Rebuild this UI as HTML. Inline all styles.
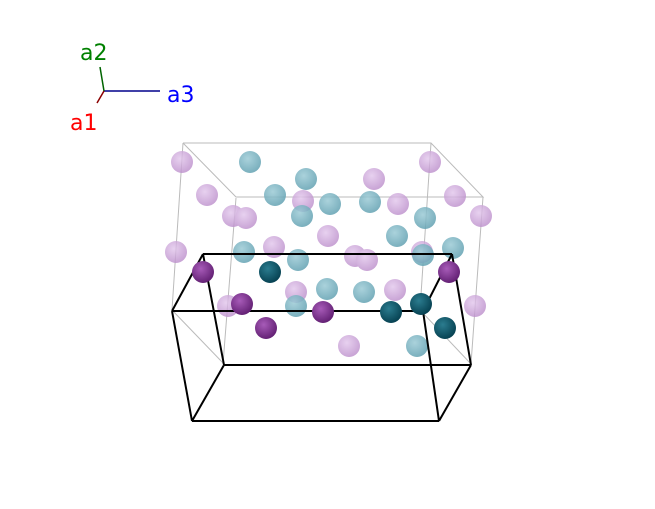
<!DOCTYPE html>
<html><head><meta charset="utf-8"><style>
html,body{margin:0;padding:0;background:#fff;width:655px;height:509px;overflow:hidden}
svg{display:block}
text{font-family:"DejaVu Sans","Liberation Sans",sans-serif;font-size:22px}
</style></head><body>
<svg width="655" height="509" viewBox="0 0 655 509">
<defs>
<radialGradient id="lp" cx="0.4" cy="0.35" r="0.7"><stop offset="0" stop-color="#e2c6ec"/><stop offset="1" stop-color="#b98ac9"/></radialGradient>
<radialGradient id="lt" cx="0.4" cy="0.35" r="0.7"><stop offset="0" stop-color="#9ccbd6"/><stop offset="1" stop-color="#5f9fb0"/></radialGradient>
<radialGradient id="dp" cx="0.4" cy="0.35" r="0.7"><stop offset="0" stop-color="#a75bb8"/><stop offset="1" stop-color="#5f1d70"/></radialGradient>
<radialGradient id="dt" cx="0.4" cy="0.35" r="0.7"><stop offset="0" stop-color="#2b7c8f"/><stop offset="1" stop-color="#043e4e"/></radialGradient>
</defs>
<g stroke="#bbb" stroke-width="1" fill="none">
<path d="M183 143H431L483 197H236L183 143 M183 143L172 310L224 364 M236 198L223 364 M431 143L420 310L471 364 M483 197L471 364"/>
</g>
<g fill="url(#lp)" opacity="0.8">
<circle cx="182" cy="162" r="11"/><circle cx="207" cy="195" r="11"/><circle cx="233" cy="216" r="11"/><circle cx="246" cy="218" r="11"/><circle cx="176" cy="252" r="11"/><circle cx="274" cy="247" r="11"/><circle cx="303" cy="201" r="11"/><circle cx="328" cy="236" r="11"/><circle cx="374" cy="179" r="11"/><circle cx="398" cy="204" r="11"/><circle cx="430" cy="162" r="11"/><circle cx="455" cy="196" r="11"/><circle cx="481" cy="216" r="11"/><circle cx="355" cy="256" r="11"/><circle cx="367" cy="260" r="11"/><circle cx="296" cy="292" r="11"/><circle cx="395" cy="290" r="11"/><circle cx="228" cy="306" r="11"/><circle cx="349" cy="346" r="11"/><circle cx="475" cy="306" r="11"/><circle cx="422" cy="252" r="11"/>
</g>
<g fill="url(#lt)" opacity="0.85">
<circle cx="250" cy="162" r="11"/><circle cx="306" cy="179" r="11"/><circle cx="275" cy="195" r="11"/><circle cx="330" cy="204" r="11"/><circle cx="370" cy="202" r="11"/><circle cx="302" cy="216" r="11"/><circle cx="425" cy="218" r="11"/><circle cx="397" cy="236" r="11"/><circle cx="244" cy="252" r="11"/><circle cx="298" cy="260" r="11"/><circle cx="453" cy="248" r="11"/><circle cx="423" cy="255" r="11"/><circle cx="327" cy="289" r="11"/><circle cx="364" cy="292" r="11"/><circle cx="296" cy="306" r="11"/><circle cx="417" cy="346" r="11"/>
</g>
<g stroke="#000" stroke-width="2" fill="none">
<path d="M203 254H452 M172 311H423 M203 254L172 311 M452 254L423 311 M203 254L224 365 M452 254L471 365 M172 311L192 421 M423 311L439 421 M224 365H471 M192 421H439 M192 421L224 365 M439 421L471 365"/>
</g>
<g fill="url(#dp)">
<circle cx="203" cy="272" r="11"/><circle cx="242" cy="304" r="11"/><circle cx="266" cy="328" r="11"/><circle cx="323" cy="312" r="11"/><circle cx="449" cy="272" r="11"/>
</g>
<g fill="url(#dt)">
<circle cx="270" cy="272" r="11"/><circle cx="391" cy="312" r="11"/><circle cx="421" cy="304" r="11"/><circle cx="445" cy="328" r="11"/>
</g>
<line x1="104" y1="91" x2="160" y2="91" stroke="#00008b" stroke-width="1.5"/>
<line x1="104" y1="91" x2="100" y2="67" stroke="#006400" stroke-width="1.5"/>
<line x1="104" y1="91" x2="97" y2="103" stroke="#8b0000" stroke-width="1.5"/>
<text x="80" y="60" fill="#008000">a2</text>
<text x="167" y="102" fill="#0000ff">a3</text>
<text x="70" y="130" fill="#ff0000">a1</text>
</svg>
</body></html>
